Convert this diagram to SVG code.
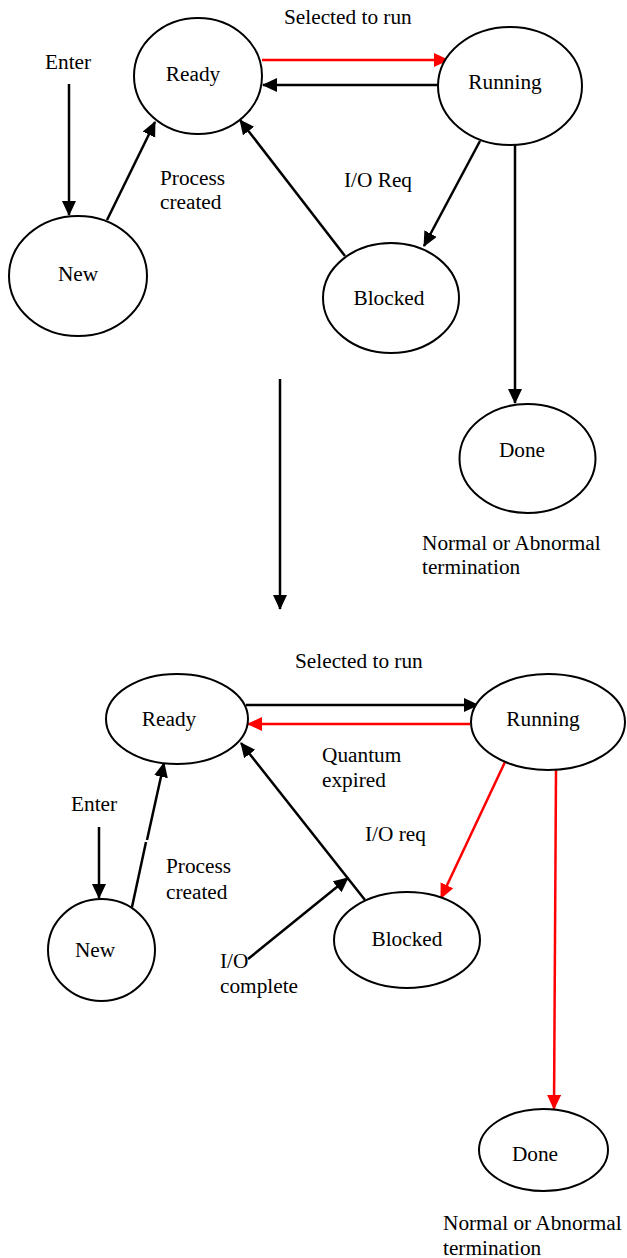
<svg xmlns="http://www.w3.org/2000/svg" width="627" height="1258" viewBox="0 0 627 1258">
<style>
.n{fill:#fff;stroke:#000;stroke-width:2}
.t{font-family:"Liberation Serif","Times New Roman",serif;font-size:21.3px;fill:#000}
.m{text-anchor:middle}
.k{stroke:#000;stroke-width:2.5;fill:none}
.r{stroke:#ff0000;stroke-width:2.5;fill:none}
</style>
<defs>
<marker id="ak" markerUnits="userSpaceOnUse" markerWidth="16" markerHeight="16" refX="14" refY="7" orient="auto"><path d="M0,0 L15,7 L0,14 z" fill="#000"/></marker>
<marker id="ar" markerUnits="userSpaceOnUse" markerWidth="16" markerHeight="16" refX="14" refY="7" orient="auto"><path d="M0,0 L15,7 L0,14 z" fill="#ff0000"/></marker>
</defs>

<g id="connectors">
<line class="r" x1="262" y1="60" x2="448" y2="60" marker-end="url(#ar)"/>
<line class="k" x1="438" y1="85" x2="263" y2="85" marker-end="url(#ak)"/>
<line class="k" x1="69" y1="84" x2="69" y2="215" marker-end="url(#ak)"/>
<line class="k" x1="107" y1="220" x2="155" y2="122" marker-end="url(#ak)"/>
<line class="k" x1="345" y1="256" x2="240" y2="120" marker-end="url(#ak)"/>
<line class="k" x1="480" y1="141" x2="424" y2="246" marker-end="url(#ak)"/>
<line class="k" x1="515" y1="145" x2="515" y2="403" marker-end="url(#ak)"/>
<line class="k" x1="280" y1="379" x2="280" y2="609" marker-end="url(#ak)"/>
<line class="k" x1="246" y1="705" x2="478" y2="705" marker-end="url(#ak)"/>
<line class="r" x1="470" y1="724" x2="248" y2="724" marker-end="url(#ar)"/>
<line class="k" x1="99" y1="827" x2="99" y2="898" marker-end="url(#ak)"/>
<polyline class="k" points="132,907 146,842"/>
<line class="k" x1="147" y1="840" x2="164" y2="763" marker-end="url(#ak)"/>
<line class="k" x1="365" y1="900" x2="241" y2="743" marker-end="url(#ak)"/>
<line class="r" x1="505" y1="762" x2="441" y2="898" marker-end="url(#ar)"/>
<line class="k" x1="248" y1="959" x2="348" y2="878" marker-end="url(#ak)"/>
<line class="r" x1="556" y1="770" x2="554" y2="1109" marker-end="url(#ar)"/>
</g>

<g id="top-labels">
<text class="t" x="284" y="24">Selected to run</text>
<text class="t" x="45" y="69">Enter</text>
<text class="t" x="160" y="185">Process</text>
<text class="t" x="160" y="209">created</text>
<text class="t" x="344" y="187">I/O Req</text>
<text class="t" x="422" y="550">Normal or Abnormal</text>
<text class="t" x="422" y="574">termination</text>
</g>

<g id="ready1"><ellipse class="n" cx="198" cy="76" rx="64" ry="58"/><text class="t m" x="193" y="81">Ready</text></g>
<g id="running1"><ellipse class="n" cx="510" cy="86" rx="72" ry="59"/><text class="t m" x="505" y="89">Running</text></g>
<g id="new1"><ellipse class="n" cx="78" cy="276" rx="69" ry="60"/><text class="t m" x="78" y="281">New</text></g>
<g id="blocked1"><ellipse class="n" cx="391" cy="298" rx="68" ry="55"/><text class="t m" x="389" y="305">Blocked</text></g>
<g id="done1"><ellipse class="n" cx="527.5" cy="458.5" rx="68" ry="54.5"/><text class="t m" x="522" y="457">Done</text></g>

<g id="bottom-labels">
<text class="t" x="295" y="668">Selected to run</text>
<text class="t" x="322" y="762">Quantum</text>
<text class="t" x="322" y="787">expired</text>
<text class="t" x="71" y="811">Enter</text>
<text class="t" x="365" y="841">I/O req</text>
<text class="t" x="166" y="873">Process</text>
<text class="t" x="166" y="899">created</text>
<text class="t" x="220" y="968">I/O</text>
<text class="t" x="220" y="993">complete</text>
<text class="t" x="443" y="1230">Normal or Abnormal</text>
<text class="t" x="443" y="1255">termination</text>
</g>

<g id="ready2"><ellipse class="n" cx="177" cy="719" rx="71" ry="45"/><text class="t m" x="169" y="726">Ready</text></g>
<g id="running2"><ellipse class="n" cx="548" cy="722" rx="77" ry="48"/><text class="t m" x="543" y="726">Running</text></g>
<g id="new2"><ellipse class="n" cx="101.5" cy="950" rx="53.5" ry="51"/><text class="t m" x="95" y="957">New</text></g>
<g id="blocked2"><ellipse class="n" cx="407" cy="940" rx="73" ry="48"/><text class="t m" x="407" y="946">Blocked</text></g>
<g id="done2"><ellipse class="n" cx="543.5" cy="1150" rx="64.5" ry="41"/><text class="t m" x="535" y="1161">Done</text></g>
</svg>
